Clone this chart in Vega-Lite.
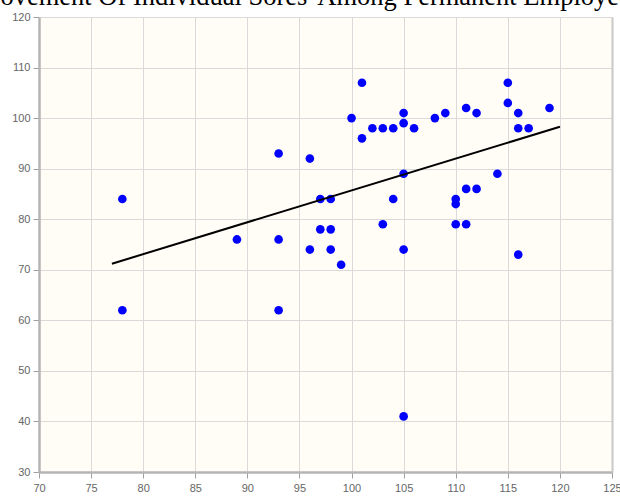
{
  "$schema": "https://vega.github.io/schema/vega-lite/v6.json",
  "width": 573,
  "height": 455,
  "autosize": "none",
  "padding": {"left": 39, "top": 17, "right": 8, "bottom": 24},
  "background": "#ffffff",
  "title": {
    "text": "Improvement Of Individual Sores' Among Permanent Employees",
    "font": "Liberation Serif",
    "fontSize": 26.5,
    "fontWeight": "normal",
    "color": "#000000",
    "anchor": "middle",
    "frame": "group",
    "dx": -30.5,
    "baseline": "alphabetic",
    "offset": -20
  },
  "config": {
    "view": {"fill": "#fffdf6", "stroke": null},
    "axis": {
      "labelFont": "Liberation Sans",
      "labelFontSize": 11,
      "labelColor": "#666666",
      "domainColor": "#b4b4b4",
      "domainWidth": 2.5,
      "gridColor": "#dadada",
      "gridWidth": 1,
      "gridOpacity": 1,
      "tickColor": "#a0a0a0",
      "tickSize": 6,
      "tickWidth": 1,
      "title": null
    }
  },
  "datasets": {
    "points": [
      {"x": 78, "y": 84}, {"x": 78, "y": 62}, {"x": 89, "y": 76}, {"x": 93, "y": 93},
      {"x": 93, "y": 76}, {"x": 93, "y": 62}, {"x": 96, "y": 92}, {"x": 96, "y": 74},
      {"x": 97, "y": 84}, {"x": 97, "y": 78}, {"x": 98, "y": 84}, {"x": 98, "y": 78},
      {"x": 98, "y": 74}, {"x": 99, "y": 71}, {"x": 100, "y": 100}, {"x": 101, "y": 107},
      {"x": 101, "y": 96}, {"x": 102, "y": 98}, {"x": 103, "y": 98}, {"x": 103, "y": 79},
      {"x": 104, "y": 98}, {"x": 104, "y": 84}, {"x": 105, "y": 101}, {"x": 105, "y": 99},
      {"x": 105, "y": 89}, {"x": 105, "y": 74}, {"x": 105, "y": 41}, {"x": 106, "y": 98},
      {"x": 108, "y": 100}, {"x": 109, "y": 101}, {"x": 110, "y": 84}, {"x": 110, "y": 83},
      {"x": 110, "y": 79}, {"x": 111, "y": 102}, {"x": 111, "y": 86}, {"x": 111, "y": 79},
      {"x": 112, "y": 101}, {"x": 112, "y": 86}, {"x": 114, "y": 89}, {"x": 115, "y": 107},
      {"x": 115, "y": 103}, {"x": 116, "y": 101}, {"x": 116, "y": 98}, {"x": 116, "y": 73},
      {"x": 117, "y": 98}, {"x": 119, "y": 102}
    ],
    "fit": [
      {"x": 77, "y": 71.2},
      {"x": 120, "y": 98.3}
    ]
  },
  "resolve": {"axis": {"y": "independent"}},
  "layer": [
    {
      "data": {"name": "points"},
      "mark": {"type": "circle", "size": 75, "color": "#0000ff", "opacity": 1},
      "encoding": {
        "x": {
          "field": "x", "type": "quantitative",
          "scale": {"domain": [70, 125], "nice": false, "zero": false},
          "axis": {"values": [70, 75, 80, 85, 90, 95, 100, 105, 110, 115, 120, 125], "labelPadding": 4, "labelFlush": false}
        },
        "y": {
          "field": "y", "type": "quantitative",
          "scale": {"domain": [30, 120], "nice": false, "zero": false},
          "axis": {"orient": "left", "values": [30, 40, 50, 60, 70, 80, 90, 100, 110, 120], "labelPadding": 3, "labelFlush": false}
        }
      }
    },
    {
      "data": {"name": "fit"},
      "mark": {"type": "line", "color": "#000000", "strokeWidth": 2},
      "encoding": {
        "x": {"field": "x", "type": "quantitative"},
        "y": {
          "field": "y", "type": "quantitative",
          "axis": {"orient": "right", "labels": false, "ticks": false, "grid": false, "domain": true, "domainColor": "#c8c8c8", "domainWidth": 2}
        }
      }
    }
  ]
}
